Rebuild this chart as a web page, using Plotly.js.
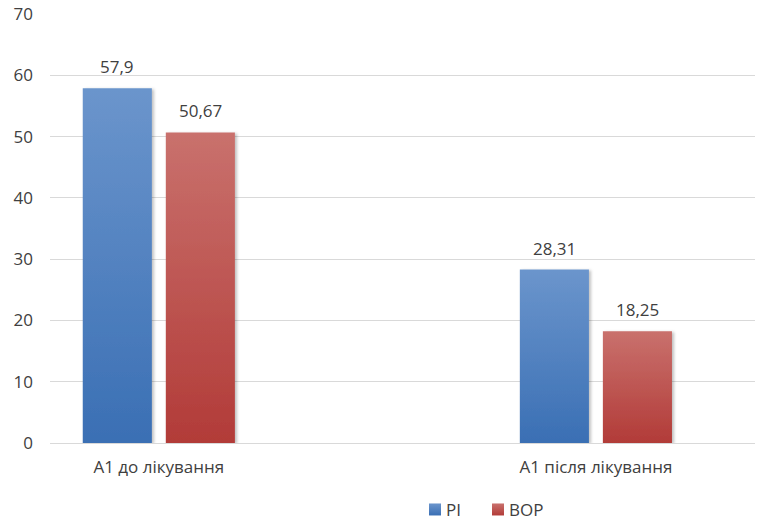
<!DOCTYPE html>
<html>
<head>
<meta charset="utf-8">
<script src="https://cdn.plot.ly/plotly-3.0.1.min.js"></script>
<style>
  html, body { margin: 0; padding: 0; background: #fff; }
  #chart { width: 766px; height: 523px; }
</style>
</head>
<body>
<div id="chart"></div>
<script>
// Groups on the x axis
const categories = ['A1 до лікування', 'A1 після лікування'];
// Series values
const piValues = [57.9, 28.31];
const bopValues = [50.67, 18.25];
const seriesNames = ['PI', 'BOP'];
const yTicks = [0, 10, 20, 30, 40, 50, 60, 70];

const fmt = v => String(v).replace('.', ',');
const textColor = '#404040';
const font = { family: 'Open Sans, Noto Sans, sans-serif', size: 17, color: textColor };

const traces = [
  { type: 'bar', name: seriesNames[0], x: categories, y: piValues,
    marker: { color: '#4f7fc0' }, hoverinfo: 'none' },
  { type: 'bar', name: seriesNames[1], x: categories, y: bopValues,
    marker: { color: '#c0504d' }, hoverinfo: 'none' }
];

// Value labels above each bar, offset to the bar's slot within its group
const slot = 0.19;
const annotations = [];
[piValues, bopValues].forEach((vals, s) => {
  vals.forEach((v, i) => {
    annotations.push({
      x: i + (s === 0 ? -slot / 2 : slot / 2), y: v, xref: 'x', yref: 'y',
      text: fmt(v), showarrow: false, yanchor: 'bottom', yshift: 8,
      font: font
    });
  });
});

const layout = {
  width: 766, height: 523,
  margin: { l: 50, r: 11, t: 14, b: 80, autoexpand: false },
  paper_bgcolor: '#fff', plot_bgcolor: '#fff',
  font: font,
  barmode: 'group', bargap: 0.62, bargroupgap: 0.168,
  xaxis: {
    type: 'category', range: [-0.249, 1.364],
    showgrid: false, showline: true, linecolor: '#d9d9d9', linewidth: 1,
    ticks: '', ticklabelstandoff: 9, tickfont: font, fixedrange: true
  },
  yaxis: {
    range: [0, 70], tickvals: yTicks, ticktext: yTicks.map(String),
    showgrid: true, gridcolor: '#d9d9d9', gridwidth: 1,
    zeroline: false, showline: false, ticks: '',
    ticklabelstandoff: 16, tickfont: font, fixedrange: true
  },
  showlegend: true,
  legend: {
    orientation: 'h', x: 0.505, xanchor: 'left', y: -0.156, yanchor: 'middle',
    font: font, itemclick: false, itemdoubleclick: false,
    entrywidth: 18, entrywidthmode: 'pixels'
  },
  annotations: annotations
};

Plotly.newPlot('chart', traces, layout, { displayModeBar: false, staticPlot: true }).then(gd => {
  // Vertical gradient fills and a soft shadow on the bars
  const svg = gd.querySelector('.main-svg');
  const ns = 'http://www.w3.org/2000/svg';
  let defs = svg.querySelector('defs');
  if (!defs) { defs = document.createElementNS(ns, 'defs'); svg.insertBefore(defs, svg.firstChild); }
  const grads = [['gPI', '#6b95cc', '#3a6fb4'], ['gBOP', '#c9716d', '#b23b38']];
  grads.forEach(([id, top, bot]) => {
    const g = document.createElementNS(ns, 'linearGradient');
    g.setAttribute('id', id); g.setAttribute('x1', '0'); g.setAttribute('y1', '0');
    g.setAttribute('x2', '0'); g.setAttribute('y2', '1');
    [[0, top], [1, bot]].forEach(([o, c]) => {
      const st = document.createElementNS(ns, 'stop');
      st.setAttribute('offset', o); st.setAttribute('stop-color', c);
      g.appendChild(st);
    });
    defs.appendChild(g);
  });
  const f = document.createElementNS(ns, 'filter');
  f.setAttribute('id', 'barShadow');
  f.setAttribute('x', '-10%'); f.setAttribute('y', '-10%');
  f.setAttribute('width', '130%'); f.setAttribute('height', '120%');
  const ds = document.createElementNS(ns, 'feDropShadow');
  ds.setAttribute('dx', '2'); ds.setAttribute('dy', '1');
  ds.setAttribute('stdDeviation', '1.5'); ds.setAttribute('flood-color', '#000');
  ds.setAttribute('flood-opacity', '0.25');
  f.appendChild(ds); defs.appendChild(f);

  gd.querySelectorAll('.barlayer .trace').forEach((tr, i) => {
    tr.querySelectorAll('.point path').forEach(p => {
      p.style.fill = 'url(#' + grads[i][0] + ')';
      p.setAttribute('filter', 'url(#barShadow)');
    });
  });
  // Larger square legend keys placed close to their text; legend entries
  // are narrow, so let the last label run past the legend box
  gd.querySelectorAll('.legend .scrollbox').forEach(sb => sb.removeAttribute('clip-path'));
  gd.querySelectorAll('.legend .traces').forEach((tr, i) => {
    tr.querySelectorAll('.legendpoints path').forEach(p => {
      p.setAttribute('d', 'M3,-6h12v12h-12z');
      p.style.fill = 'url(#' + grads[i][0] + ')';
      p.style.stroke = 'none';
    });
  });
});
</script>
</body>
</html>
